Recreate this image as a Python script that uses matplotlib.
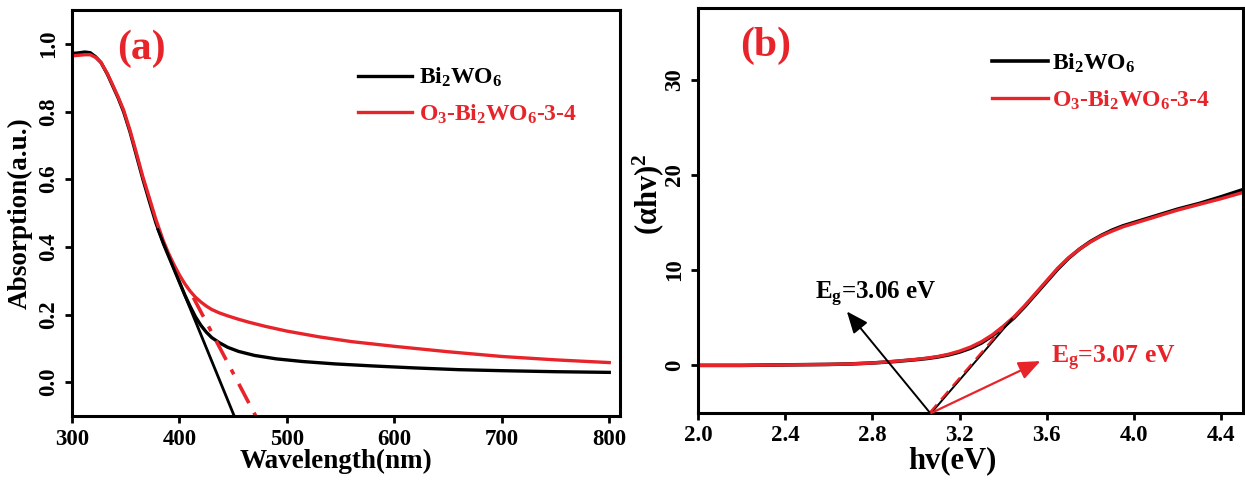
import matplotlib
matplotlib.use("Agg")
import matplotlib.pyplot as plt

plt.rcParams['font.family'] = ['Liberation Serif', 'DejaVu Serif']
plt.rcParams['font.weight'] = 'bold'
plt.rcParams['axes.labelweight'] = 'bold'
plt.rcParams['mathtext.fontset'] = 'custom'
plt.rcParams['mathtext.rm'] = 'Liberation Serif:bold'
plt.rcParams['mathtext.it'] = 'Liberation Serif:bold'
plt.rcParams['mathtext.bf'] = 'Liberation Serif:bold'

RED = '#e8242b'

# ---------------- data panel (a) ----------------
wl_black = [300, 305, 312, 317, 322, 327, 333, 338, 343, 348, 354, 360, 366, 372, 378, 385,
            390, 395, 400, 405, 410, 415, 420, 425, 430, 437, 445, 455, 470, 490, 515, 545,
            580, 620, 660, 700, 750, 800]
abs_black = [0.972, 0.973, 0.976, 0.974, 0.962, 0.945, 0.91, 0.875, 0.84, 0.80, 0.74, 0.67,
             0.60, 0.535, 0.472, 0.41, 0.372, 0.334, 0.296, 0.258, 0.224, 0.193, 0.168,
             0.148, 0.132, 0.117, 0.103, 0.091, 0.079, 0.069, 0.061, 0.054, 0.048, 0.042,
             0.037, 0.034, 0.031, 0.029]
wl_red = [300, 305, 312, 317, 322, 327, 333, 338, 343, 348, 354, 360, 366, 372, 378, 385,
          390, 395, 400, 405, 410, 415, 420, 425, 430, 437, 445, 455, 465, 480, 500, 530,
          560, 600, 650, 700, 750, 800]
abs_red = [0.965, 0.966, 0.968, 0.968, 0.96, 0.945, 0.912, 0.878, 0.843, 0.805, 0.745, 0.677,
           0.607, 0.545, 0.482, 0.418, 0.38, 0.347, 0.317, 0.291, 0.269, 0.251, 0.237, 0.225,
           0.215, 0.205, 0.196, 0.186, 0.177, 0.165, 0.151, 0.134, 0.12, 0.106, 0.09,
           0.076, 0.066, 0.058]
tan_a_black_x = [380, 451]
tan_a_black_y = [0.451, -0.1]
tan_a_red_x = [413, 471]
tan_a_red_y = [0.25, -0.1]

# ---------------- data panel (b) ----------------
hv = [2.0, 2.2, 2.4, 2.6, 2.7, 2.8, 2.9, 3.0, 3.05, 3.1, 3.15, 3.2, 3.25, 3.3, 3.35, 3.4,
      3.45, 3.5, 3.55, 3.6, 3.65, 3.7, 3.75, 3.8, 3.85, 3.9, 3.95, 4.0, 4.1, 4.2, 4.3, 4.4,
      4.5]
ahv_black = [0.0, 0.0, 0.05, 0.1, 0.15, 0.25, 0.4, 0.6, 0.72, 0.88, 1.1, 1.4, 1.8, 2.35,
             3.1, 4.0, 5.0, 6.2, 7.5, 8.8, 10.1, 11.25, 12.2, 13.0, 13.65, 14.2, 14.65,
             15.0, 15.7, 16.4, 17.0, 17.7, 18.45]
ahv_red = [0.0, 0.0, 0.05, 0.1, 0.15, 0.25, 0.42, 0.63, 0.76, 0.93, 1.17, 1.5, 1.92, 2.48,
           3.2, 4.1, 5.1, 6.3, 7.6, 8.9, 10.2, 11.3, 12.2, 12.95, 13.6, 14.1, 14.55, 14.9,
           15.6, 16.3, 16.9, 17.5, 18.15]
tan_b_black_x = [3.07, 3.44]
tan_b_black_y = [-5.0, 4.85]
tan_b_red_x = [3.062, 3.40]
tan_b_red_y = [-5.0, 4.0]

labels = [r'$Bi_2WO_6$', r'$O_3$-$Bi_2WO_6$-3-4']

fig = plt.figure(figsize=(12.45, 4.8), dpi=100)
ax1 = fig.add_axes([0.0578, 0.1333, 0.4402, 0.8457])
ax2 = fig.add_axes([0.5606, 0.1396, 0.4378, 0.8434])


def style(ax):
    for s in ax.spines.values():
        s.set_linewidth(2.2)
    ax.tick_params(axis='both', which='major', direction='out', length=5, width=2,
                   labelsize=16.5, pad=4, top=False, right=False)
    for lab in ax.get_yticklabels():
        lab.set_rotation(90)
        lab.set_va('center')


# ---------- panel (a) ----------
l1, = ax1.plot(wl_black, abs_black, color='black', lw=2.4)
l2, = ax1.plot(wl_red, abs_red, color=RED, lw=2.4)
ax1.plot(tan_a_black_x, tan_a_black_y, color='black', lw=2.0)
ax1.plot(tan_a_red_x, tan_a_red_y, color=RED, lw=2.6, linestyle=(0, (6, 3, 1.5, 3)))
ax1.set_xlim(300, 810)
ax1.set_ylim(-0.1, 1.1)
ax1.set_xticks([300, 400, 500, 600, 700, 800])
ax1.set_yticks([0.0, 0.2, 0.4, 0.6, 0.8, 1.0])
ax1.set_yticklabels(['0.0', '0.2', '0.4', '0.6', '0.8', '1.0'])
ax1.set_xlabel('Wavelength(nm)', fontsize=19.5)
ax1.set_ylabel('Absorption(a.u.)', fontsize=19.5)
ax1.xaxis.set_label_coords(0.482, -0.08)
ax1.yaxis.set_label_coords(-0.072, 0.5)
style(ax1)
ax1.text(0.082, 0.905, '(a)', transform=ax1.transAxes, color=RED, fontsize=30,
         ha='left', va='center')
ax1.legend([l1, l2], labels, loc='upper left', bbox_to_anchor=(0.522, 0.862),
           frameon=False, fontsize=17, handlelength=2.3, handletextpad=0.3,
           labelspacing=0.55, borderpad=0, borderaxespad=0, labelcolor='linecolor')

# ---------- panel (b) ----------
m1, = ax2.plot(hv, ahv_black, color='black', lw=2.6)
m2, = ax2.plot(hv, ahv_red, color=RED, lw=2.4)
ax2.plot(tan_b_black_x, tan_b_black_y, color='black', lw=1.4)
ax2.plot(tan_b_red_x, tan_b_red_y, color=RED, lw=1.6, linestyle=(0, (5, 3)))
ax2.set_xlim(2.0, 4.5)
ax2.set_ylim(-5, 37.5)
ax2.set_xticks([2.0, 2.4, 2.8, 3.2, 3.6, 4.0, 4.4])
ax2.set_xticklabels(['2.0', '2.4', '2.8', '3.2', '3.6', '4.0', '4.4'])
ax2.set_yticks([0, 10, 20, 30])
ax2.set_xlabel('hv(eV)', fontsize=22)
ax2.set_ylabel('(αhv)$^2$', fontsize=22)
ax2.xaxis.set_label_coords(0.466, -0.083)
ax2.yaxis.set_label_coords(-0.058, 0.54)
style(ax2)
ax2.text(0.077, 0.906, '(b)', transform=ax2.transAxes, color=RED, fontsize=30,
         ha='left', va='center')
ax2.legend([m1, m2], labels, loc='upper left', bbox_to_anchor=(0.539, 0.893),
           frameon=False, fontsize=17, handlelength=2.37, handletextpad=0.2,
           labelspacing=0.57, borderpad=0, borderaxespad=0, labelcolor='linecolor')

ax2.annotate('', xy=(2.683, 5.66), xytext=(3.065, -5.0),
             arrowprops=dict(arrowstyle='-|>,head_length=0.6,head_width=0.25', lw=1.4,
                             color='black', mutation_scale=22, shrinkA=0, shrinkB=0))
ax2.text(2.535, 6.9, 'E$_g$=3.06 eV', fontsize=18, color='black', ha='left', va='baseline')
ax2.annotate('', xy=(3.571, 0.45), xytext=(3.07, -5.0),
             arrowprops=dict(arrowstyle='-|>,head_length=0.6,head_width=0.25', lw=1.6,
                             color=RED, mutation_scale=22, shrinkA=0, shrinkB=0))
ax2.text(3.618, 0.2, 'E$_g$=3.07 eV', fontsize=18.5, color=RED, ha='left', va='baseline')

fig.savefig('out.png', dpi=100)
